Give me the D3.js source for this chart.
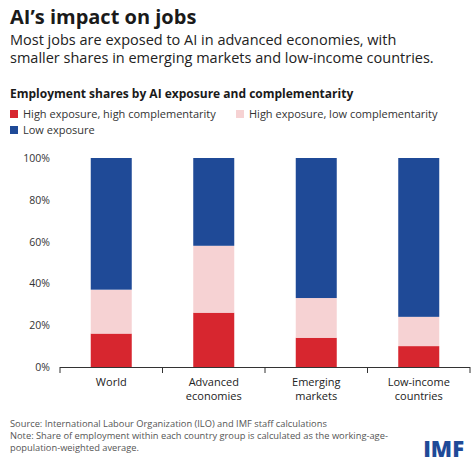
<!DOCTYPE html>
<html><head><meta charset="utf-8">
<script src="https://cdn.jsdelivr.net/npm/d3@7"></script>
<style>body{margin:0;background:#fff;font-family:"Open Sans","Noto Sans",sans-serif;}</style>
</head><body><svg id="c" width="474" height="469"></svg>
<script>
const categories = [["World"],["Advanced","economies"],["Emerging","markets"],["Low-income","countries"]];
const highHigh = [16, 26, 14, 10];
const highLow = [21, 32, 19, 14];
const low = [63, 42, 67, 76];
const ticks = [0,20,40,60,80,100];
const colors = ["#d7262f","#f6d2d3","#1f4a97"];
const legend = ["High exposure, high complementarity","High exposure, low complementarity","Low exposure"];

const svg = d3.select("#c");
svg.append("text").attr("x",10).attr("y",24).attr("font-size",20).attr("font-weight",700).attr("fill","#1a1a1a").text("AI’s impact on jobs");
svg.append("text").attr("x",10).attr("y",45).attr("font-size",14.5).attr("fill","#222").text("Most jobs are exposed to AI in advanced economies, with");
svg.append("text").attr("x",10).attr("y",63).attr("font-size",14.5).attr("fill","#222").text("smaller shares in emerging markets and low-income countries.");
svg.append("text").attr("x",10).attr("y",98).attr("font-size",12).attr("font-weight",700).attr("fill","#1a1a1a").text("Employment shares by AI exposure and complementarity");
const lp=[[10,118],[236,118],[10,134]];
legend.forEach((l,i)=>{
  svg.append("rect").attr("x",lp[i][0]).attr("y",lp[i][1]-8).attr("width",8).attr("height",8).attr("fill",colors[i]);
  svg.append("text").attr("x",lp[i][0]+13).attr("y",lp[i][1]).attr("font-size",11).attr("fill","#333").text(l);
});
const y=d3.scaleLinear().domain([0,100]).range([367,158]);
const x=d3.scaleBand().domain(d3.range(4)).range([60,470]).paddingInner(0.6).paddingOuter(0.3);
ticks.forEach(t=>{
  svg.append("text").attr("x",50).attr("y",y(t)+4).attr("text-anchor","end").attr("font-size",10.5).attr("fill","#333").text(t+"%");
});
const stack=d3.stack().keys([0,1,2]).value((d,k)=>d[k])(d3.range(4).map(i=>[highHigh[i],highLow[i],low[i]]));
stack.forEach((s,k)=>{
  svg.append("g").selectAll("rect").data(s).join("rect")
   .attr("x",(d,i)=>x(i)).attr("width",x.bandwidth())
   .attr("y",d=>y(d[1])).attr("height",d=>y(d[0])-y(d[1])).attr("fill",colors[k]);
});
svg.append("line").attr("x1",60).attr("x2",470).attr("y1",367.5).attr("y2",367.5).attr("stroke","#333");
d3.range(5).forEach(i=>{
  const xx = i===0?60:i===4?470:x(i)-x.step()*x.paddingInner()/2;
  svg.append("line").attr("x1",xx).attr("x2",xx).attr("y1",367).attr("y2",373).attr("stroke","#333");
});
categories.forEach((c,i)=>{
  c.forEach((w,j)=>svg.append("text").attr("x",x(i)+x.bandwidth()/2).attr("y",386+j*14).attr("text-anchor","middle").attr("font-size",11).attr("fill","#222").text(w));
});
const notes=["Source: International Labour Organization (ILO) and IMF staff calculations","Note: Share of employment within each country group is calculated as the working-age-","population-weighted average."];
notes.forEach((n,i)=>svg.append("text").attr("x",10).attr("y",427+i*12).attr("font-size",9.3).attr("fill","#555").text(n));
svg.append("text").attr("x",464).attr("y",457).attr("text-anchor","end").attr("font-size",22).attr("font-weight",800).attr("fill","#1f4a97").text("IMF");
</script></body></html>
